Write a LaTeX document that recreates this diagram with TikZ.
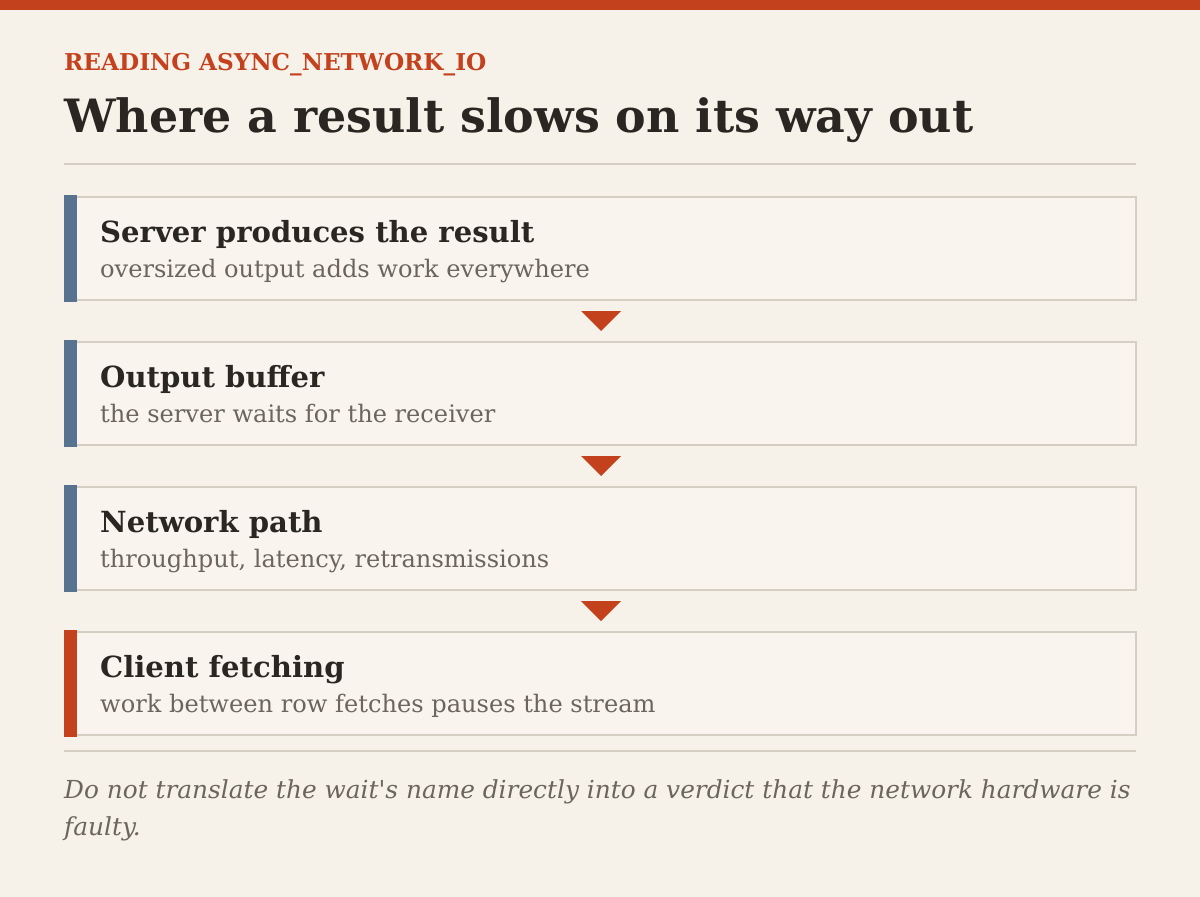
\documentclass[tikz,border=0pt]{standalone}
\usepackage{fontspec}
\setmainfont{DejaVu Serif}[Ligatures=TeXOff]
\usepackage{tikz}
\usetikzlibrary{calc}

\definecolor{paper}{HTML}{F7F2E9}
\definecolor{rust}{HTML}{C4411E}
\definecolor{slate}{HTML}{587390}
\definecolor{ink}{HTML}{2A2622}
\definecolor{muted}{HTML}{6B655D}
\definecolor{rule}{HTML}{D5CEC3}

\tikzset{
	kicker/.style={anchor=base west,inner sep=0,text=rust,font=\fontsize{23.2}{28}\selectfont\bfseries},
	headline/.style={anchor=base west,inner sep=0,text=ink,font=\fontsize{45.9}{54}\selectfont\bfseries},
	stepbox/.style={draw=rule,line width=2pt,fill=paper!75!white,anchor=north west,minimum width=1070pt,minimum height=103pt,inner sep=0},
	stephead/.style={anchor=base west,inner sep=0,text=ink,font=\fontsize{29.1}{34}\selectfont\bfseries},
	stepsub/.style={anchor=base west,inner sep=0,text=muted,font=\fontsize{24.1}{30}\selectfont},
	note/.style={anchor=base west,inner sep=0,text=muted,align=left,font=\fontsize{24.8}{37}\selectfont\itshape},
}

\begin{document}
\begin{tikzpicture}[x=1pt,y=-1pt]
	\useasboundingbox (0,0) rectangle (1200,897);
	\fill[paper] (0,0) rectangle (1200,897); %背景
	\fill[rust] (0,0) rectangle (1200,10); %上の帯
	\node[kicker] (kicker) at (64,70) {READING ASYNC\_NETWORK\_IO};
	\node[headline] (title) at (64,132) {Where a result slows on its way out};
	\draw[rule,line width=2pt] (64,164) -- (1136,164); %区切り
	\foreach \i/\y/\c/\h/\s in {
		1/196/slate/Server produces the result/oversized output adds work everywhere,
		2/341/slate/Output buffer/the server waits for the receiver,
		3/486/slate/Network path/{throughput, latency, retransmissions},
		4/631/rust/Client fetching/work between row fetches pauses the stream}{ %各段
		\node[stepbox] (s\i) at (65,\y) {};
		\fill[\c] ($(s\i.north west)+(-1,-1)$) rectangle ($(s\i.south west)+(12,1)$);
		\node[stephead] (h\i) at ($(s\i.north west)+(35,46)$) {\h};
		\node[stepsub] (t\i) at ($(s\i.north west)+(35,81)$) {\s};
	}
	\foreach \i/\j in {1/2,2/3,3/4}{ %矢印
		\fill[rust] ($(s\i.south)+(-20,10)$) -- ($(s\i.south)+(20,10)$) -- ($(s\i.south)+(0,30)$) -- cycle;
	}
	\draw[rule,line width=2pt] (64,751) -- (1136,751); %区切り
	\node[note] (note) at (64,835) {Do not translate the wait's name directly into a verdict that the network hardware is\\faulty.};
\end{tikzpicture}
\end{document}
